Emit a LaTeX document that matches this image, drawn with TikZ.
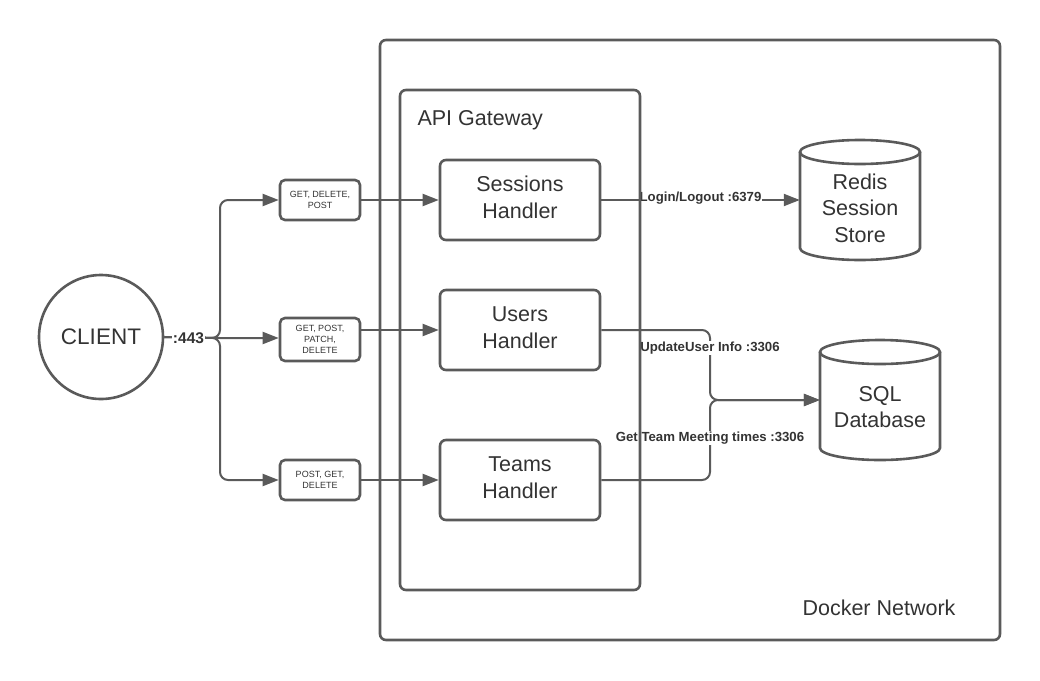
\documentclass[tikz,border=0pt]{standalone}
\usepackage{fontspec}
\setmainfont{Liberation Sans}
\usetikzlibrary{arrows.meta}
\definecolor{ln}{HTML}{5A5A5A}
\definecolor{tx}{HTML}{333333}
\begin{document}
\begin{tikzpicture}[x=1pt,y=-1pt,
  box/.style={draw=ln, line width=2.6pt, rounded corners=6pt, text=tx, align=center, inner sep=0pt},
  handler/.style={box, minimum width=160pt, minimum height=80pt, font=\fontsize{21.5}{27}\selectfont},
  meth/.style={box, minimum width=80pt, minimum height=40pt, font=\fontsize{9}{11}\selectfont, rounded corners=5pt},
  arr/.style={draw=ln, line width=2pt, -{Triangle[length=16pt,width=12pt]}},
  lab/.style={font=\bfseries\fontsize{13.2}{15}\selectfont, text=tx, fill=white, inner sep=1pt},
  big/.style={font=\fontsize{21.5}{26.5}\selectfont, text=tx, align=center}
]
\useasboundingbox (0,0) rectangle (1040,680);
% nodes
\node[circle, draw=ln, line width=2.6pt, minimum size=124pt, inner sep=0pt, big, font=\fontsize{22.5}{26}\selectfont] (client) at (101,337) {CLIENT};
\node[meth] (m1) at (320,200) {GET, DELETE,\\POST};
\node[meth, minimum height=43pt] (m2) at (320,339.5) {GET, POST,\\PATCH,\\DELETE};
\node[meth] (m3) at (320,480) {POST, GET,\\DELETE};
\node[handler] (sess) at (520,200) {\raisebox{3pt}{\begin{tabular}{@{}c@{}}Sessions\\Handler\end{tabular}}};
\node[handler] (users) at (520,330) {\raisebox{3pt}{\begin{tabular}{@{}c@{}}Users\\Handler\end{tabular}}};
\node[handler] (teams) at (520,480) {\raisebox{3pt}{\begin{tabular}{@{}c@{}}Teams\\Handler\end{tabular}}};
% cylinders
\node[minimum width=120pt, minimum height=120pt, inner sep=0pt, big] (redis) at (860,208) {Redis\\Session\\Store};
\node[minimum width=120pt, minimum height=120pt, inner sep=0pt, big] (sql) at (880,407) {SQL\\Database};
\foreach \c/\cx/\ty in {redis/860/152, sql/880/352}{
  \draw[ln, line width=2.6pt] (\cx,\ty) ellipse [x radius=60pt, y radius=12pt];
  \draw[ln, line width=2.6pt] (\cx-60,\ty) -- (\cx-60,\ty+96) arc[start angle=180, end angle=360, x radius=60pt, y radius=12pt] -- (\cx+60,\ty);
}
\coordinate (j) at (220,338);
\coordinate (jm) at (710,400);
% connectors
\draw[arr, rounded corners=8pt] (client.east) -- (j) |- (m1.west);
\draw[arr] (client.east) -- (j) -- (j -| m2.west);
\draw[arr, rounded corners=8pt] (client.east) -- (j) |- (m3.west);
\node[lab, font=\bfseries\fontsize{15.5}{17}\selectfont] at (188.5,338) {:443};
\draw[arr] (m1.east) -- (m1.east -| sess.west);
\draw[arr] (m2.east |- users.west) -- (users.west);
\draw[arr] (m3.east) -- (teams.west);
\draw[arr] (sess.east) -- (sess.east -| redis.west);
\node[lab] at (700.5,198) {Login/Logout :6379};
\draw[arr, rounded corners=8pt] (users.east) -| (jm) -- (jm -| sql.west);
\draw[arr, rounded corners=8pt] (teams.east) -| (jm) -- (jm -| sql.west);
\node[lab] at (710,348) {UpdateUser Info :3306};
\node[lab] at (710,438) {Get Team Meeting times :3306};
% containers
\draw[ln, line width=2.6pt, rounded corners=6pt] (380,40) rectangle (1000,640);
\node[big, anchor=east] (dn) at (959,608) {Docker Network};
\draw[ln, line width=2.6pt, rounded corners=6pt] (400,90) rectangle (640,590);
\node[big, anchor=west] (api) at (414,120.5) {API Gateway};
\end{tikzpicture}
\end{document}
